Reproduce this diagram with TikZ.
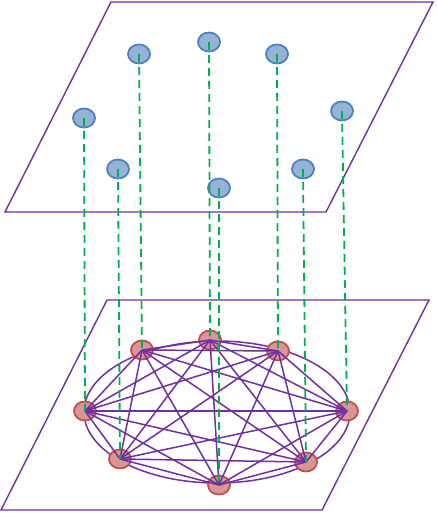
\documentclass[tikz,border=0pt]{standalone}
\usetikzlibrary{shapes.geometric}
\definecolor{plum}{HTML}{7030A0}
\definecolor{bfill}{HTML}{95B3D7}
\definecolor{bdraw}{HTML}{4F81BD}
\definecolor{rfill}{HTML}{D99694}
\definecolor{rdraw}{HTML}{C0504D}
\definecolor{gline}{HTML}{00B050}
\tikzset{
  plane/.style={draw=plum, line width=1.4pt, line join=miter},
  bnode/.style={ellipse, fill=bfill, draw=bdraw, line width=1.8pt, minimum width=22pt, minimum height=19pt, inner sep=0pt},
  rnode/.style={ellipse, fill=rfill, draw=rdraw, line width=1.8pt, minimum width=22pt, minimum height=19pt, inner sep=0pt},
  proj/.style={draw=gline, line width=1.8pt, dash pattern=on 8pt off 5pt},
  edge/.style={draw=plum, line width=1.5pt},
}
\begin{document}
\begin{tikzpicture}[x=1pt,y=-1pt]
\useasboundingbox (0,0) rectangle (436,513);
% planes
\draw[plane] (111,2) -- (433,2) -- (326,212) -- (5,212) -- cycle;
\draw[plane] (107,300) -- (429,300) -- (322,510) -- (1,510) -- cycle;
% ellipse
\draw[edge] (217,412) ellipse [x radius=133, y radius=71];
% blue nodes
\node[bnode] (b1) at (84,118) {};
\node[bnode] (b2) at (139,54) {};
\node[bnode] (b3) at (209,42) {};
\node[bnode] (b4) at (277,54) {};
\node[bnode] (b5) at (342,111) {};
\node[bnode] (b6) at (118,169) {};
\node[bnode] (b7) at (219,188) {};
\node[bnode] (b8) at (303,169) {};
% red nodes
\node[rnode] (r1) at (85,411) {};
\node[rnode] (r2) at (142,350) {};
\node[rnode] (r3) at (210,340) {};
\node[rnode] (r4) at (278,351) {};
\node[rnode] (r5) at (347,411) {};
\node[rnode] (r6) at (120,459) {};
\node[rnode] (r7) at (219,485) {};
\node[rnode] (r8) at (306,462) {};
% complete graph
\foreach \i in {1,...,8}{
  \foreach \j in {1,...,8}{
    \ifnum\i<\j
      \draw[edge] (r\i.center) -- (r\j.center);
    \fi
  }
}
% projections
\foreach \i in {1,...,8}{
  \draw[proj] (b\i.center) -- (r\i.center);
}
\end{tikzpicture}
\end{document}
